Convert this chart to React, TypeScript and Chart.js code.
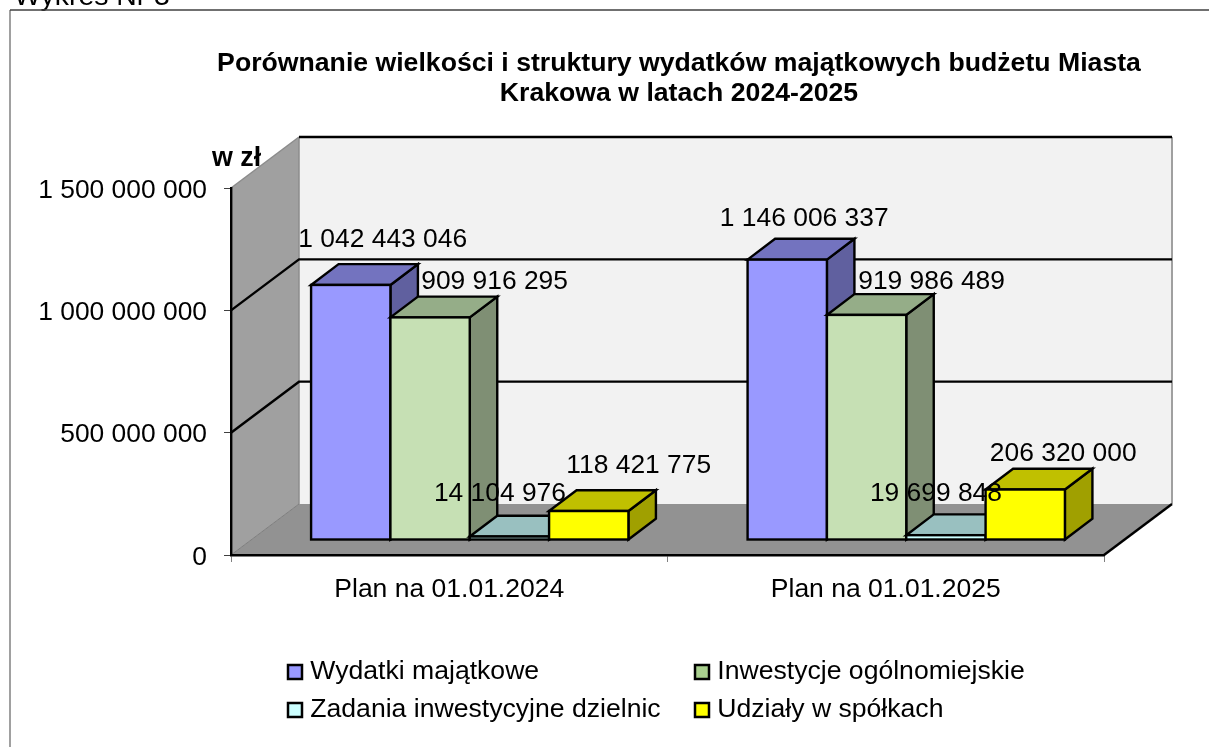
import React, { useEffect, useRef } from "react";
import { Chart, registerables } from "chart.js";

Chart.register(...registerables);

const categories = ["Plan na 01.01.2024", "Plan na 01.01.2025"];
const wydatki = [1042443046, 1146006337];
const inwestycje = [909916295, 919986489];
const zadania = [14104976, 19699848];
const udzialy = [118421775, 206320000];
const seriesNames = ["Wydatki majątkowe", "Inwestycje ogólnomiejskie", "Zadania inwestycyjne dzielnic", "Udziały w spółkach"];
const titleLines = ["Porównanie wielkości i struktury wydatków majątkowych budżetu Miasta", "Krakowa w latach 2024-2025"];
const unitLabel = "w zł";
const headingLabel = "Wykres Nr 3";

const FONT = "'Liberation Sans', Arial, sans-serif";
const WALL_DX = 68, WALL_DY = 51;
const SHIFT_DX = 20.5, SHIFT_DY = 15;
const BAR_DX = 27.5, BAR_DY = 20.8;
const LEGEND_LEFT = 281.6, LEGEND_TOP = 647.3, LEGEND_COL = 395.6;
const LINE = 2.4;

const fronts = ["#9999ff", "#c6e0b4", "#ccffff", "#ffff00"];
const tops = ["#7373bf", "#95ad88", "#99c0c0", "#c0c000"];
const sides = ["#60609f", "#7f8f74", "#80a0a0", "#a0a000"];
const legendFills = ["#9999ff", "#a9d08e", "#ccffff", "#ffff00"];
// label centre relative to the front-face top-centre of each bar: [series][category]
const labelOffsets = [
  [[32, -45], [17, -41]],
  [[64.5, -36], [65, -33]],
  [[-9.5, -43], [-10, -41]],
  [[50, -45], [38, -36]],
];

const fmt = (v: number) => String(Math.round(v)).replace(/\B(?=(\d{3})+(?!\d))/g, " ");

function poly(ctx: CanvasRenderingContext2D, pts: number[][], fill?: string, stroke?: string, w = LINE) {
  ctx.beginPath();
  pts.forEach((p, i) => (i ? ctx.lineTo(p[0], p[1]) : ctx.moveTo(p[0], p[1])));
  if (fill) { ctx.closePath(); ctx.fillStyle = fill; ctx.fill(); }
  if (stroke) { ctx.strokeStyle = stroke; ctx.lineWidth = w; ctx.lineJoin = "miter"; ctx.stroke(); }
}

const scene = {
  id: "scene3d",
  beforeLayout(chart: any) {
    chart.boxes = chart.boxes.filter((b: any) => b !== chart.legend);
  },
  afterLayout(chart: any) {
    const t = chart.titleBlock;
    t.left = 217; t.right = 1141;
    const lg = chart.legend;
    lg.update(900, 100, { top: 0, left: 0, right: 0, bottom: 0 });
    lg.left = LEGEND_LEFT; lg.right = 1150; lg.top = LEGEND_TOP; lg.bottom = LEGEND_TOP + 100;
    lg.width = lg.right - lg.left; lg.height = 100;
    if (lg.columnSizes[0]) lg.columnSizes[0].width = LEGEND_COL;
  },
  beforeDraw(chart: any) {
    const { ctx, scales: { x, y } } = chart;
    const l = x.left, r = x.right;
    const b = y.getPixelForValue(0), t = y.getPixelForValue(1500000000);
    // frame
    ctx.save();
    ctx.fillStyle = "#000";
    ctx.font = `28.4px ${FONT}`;
    ctx.textAlign = "left";
    ctx.textBaseline = "alphabetic";
    ctx.fillText(headingLabel, 14, 5);
    poly(ctx, [[10, 748], [10, 10]], undefined, "#808080", 1.5);
    poly(ctx, [[10, 10], [1209, 10]], undefined, "#404040", 1.5);
    // walls and floor
    poly(ctx, [[l + WALL_DX, t - WALL_DY], [r + WALL_DX, t - WALL_DY], [r + WALL_DX, b - WALL_DY], [l + WALL_DX, b - WALL_DY]], "#f2f2f2");
    poly(ctx, [[l, t], [l + WALL_DX, t - WALL_DY], [l + WALL_DX, b - WALL_DY], [l, b]], "#a0a0a0");
    poly(ctx, [[l, b], [l + WALL_DX, b - WALL_DY], [r + WALL_DX, b - WALL_DY], [r, b]], "#929292");
    poly(ctx, [[l + WALL_DX, t - WALL_DY], [l + WALL_DX, b - WALL_DY]], undefined, "#8c8c8c", 1.5);
    poly(ctx, [[r + WALL_DX, t - WALL_DY], [r + WALL_DX, b - WALL_DY]], undefined, "#a0a0a0", 2);
    poly(ctx, [[l, b], [l + WALL_DX, b - WALL_DY]], undefined, "#7c7c7c", 1);
    poly(ctx, [[l, t], [l + WALL_DX, t - WALL_DY]], undefined, "#8c8c8c", 1.5);
    poly(ctx, [[r, b], [r + WALL_DX, b - WALL_DY]], undefined, "#000");
    // gridlines on the walls
    y.ticks.forEach((tk: any) => {
      if (tk.value === 0) return;
      const py = y.getPixelForValue(tk.value);
      if (tk.value === 1500000000) {
        poly(ctx, [[l + WALL_DX, py - WALL_DY], [r + WALL_DX, py - WALL_DY]], undefined, "#000");
      } else {
        poly(ctx, [[l, py], [l + WALL_DX, py - WALL_DY], [r + WALL_DX, py - WALL_DY]], undefined, "#000");
      }
    });
    ctx.restore();
  },
  beforeDatasetsDraw(chart: any) {
    const { ctx } = chart;
    const n = chart.data.datasets.length;
    for (let s = 0; s < n; s++) {
      const meta = chart.getDatasetMeta(s);
      ctx.save();
      ctx.translate(SHIFT_DX, -SHIFT_DY);
      meta.data.forEach((bar: any) => {
        const { x, y, base, width } = bar.getProps(["x", "y", "base", "width"], true);
        const L = x - width / 2, R = x + width / 2;
        poly(ctx, [[R, y], [R + BAR_DX, y - BAR_DY], [R + BAR_DX, base - BAR_DY], [R, base]], sides[s], "#000");
        poly(ctx, [[L, y], [L + BAR_DX, y - BAR_DY], [R + BAR_DX, y - BAR_DY], [R, y]], tops[s], "#000");
      });
      meta.controller.draw();
      meta.data.forEach((bar: any) => {
        const { x, y, base, width } = bar.getProps(["x", "y", "base", "width"], true);
        ctx.strokeStyle = "#000";
        ctx.lineWidth = LINE;
        ctx.strokeRect(x - width / 2, y, width, base - y);
      });
      ctx.restore();
    }
    // value labels
    ctx.save();
    ctx.fillStyle = "#000";
    ctx.font = `26.4px ${FONT}`;
    ctx.textAlign = "center";
    ctx.textBaseline = "middle";
    for (let s = 0; s < n; s++) {
      const meta = chart.getDatasetMeta(s);
      meta.data.forEach((bar: any, i: number) => {
        const { x, y } = bar.getProps(["x", "y"], true);
        const [ox, oy] = labelOffsets[s][i];
        ctx.fillText(fmt(chart.data.datasets[s].data[i]), x + SHIFT_DX + ox, y - SHIFT_DY + oy);
      });
    }
    ctx.font = `bold 26.8px ${FONT}`;
    ctx.textAlign = "left";
    ctx.fillText(unitLabel, 212, 159);
    ctx.restore();
    return false;
  },
  afterDraw(chart: any) {
    chart.legend.draw(chart.ctx);
  },
};

export default function App() {
  const ref = useRef<HTMLCanvasElement>(null);
  useEffect(() => {
    document.body.style.margin = "0";
    const rank = [0, 2, 1, 3];
    const chart = new Chart(ref.current as HTMLCanvasElement, {
      type: "bar",
      data: {
        labels: categories,
        datasets: [wydatki, inwestycje, zadania, udzialy].map((data, i) => ({
          label: seriesNames[i],
          data,
          backgroundColor: fronts[i],
          borderColor: "#000",
          borderWidth: 0,
          categoryPercentage: 0.727,
          barPercentage: 1,
        })),
      },
      options: {
        responsive: false,
        animation: false,
        devicePixelRatio: 1,
        layout: { padding: { left: 0, top: 0, right: 105, bottom: 0 } },
        plugins: {
          tooltip: { enabled: false },
          title: {
            display: true,
            text: titleLines,
            color: "#000",
            font: { family: FONT, size: 26.65, weight: "bold", lineHeight: 1.126 },
            padding: { top: 49, bottom: 79 },
          },
          legend: {
            display: true,
            position: "left",
            align: "start",
            labels: {
              color: "#000",
              font: { family: FONT, size: 26.6, lineHeight: 1.2 },
              boxWidth: 4,
              boxHeight: 14,
              usePointStyle: true,
              padding: 11.4,
              generateLabels(c: any) {
                return Chart.defaults.plugins.legend.labels.generateLabels(c).map((it: any, i: number) => ({ ...it, fillStyle: legendFills[i], strokeStyle: "#000", lineWidth: 2.5, pointStyle: "rect" }));
              },
              sort: (a: any, b: any) => rank[a.datasetIndex] - rank[b.datasetIndex],
            },
          },
        },
        scales: {
          x: {
            afterFit: (s: any) => { s.height = 192; },
            grid: { drawOnChartArea: false, drawTicks: true, tickLength: 7, tickColor: "#808080", tickWidth: 1 },
            border: { display: true, color: "#000", width: 2.4 },
            ticks: { color: "#000", font: { family: FONT, size: 26.5 }, padding: 12, autoSkip: false, maxRotation: 0 },
          },
          y: {
            min: 0,
            max: 1500000000,
            afterFit: (s: any) => { s.width = 231; },
            grid: { drawOnChartArea: false, drawTicks: true, tickLength: 7, tickColor: "#404040", tickWidth: 1 },
            border: { display: true, color: "#000", width: 2.4 },
            ticks: { color: "#000", stepSize: 500000000, font: { family: FONT, size: 26.4 }, padding: 17, labelOffset: 2.5, callback: (v: any) => fmt(Number(v)) },
          },
        },
      } as any,
      plugins: [scene as any],
    });
    return () => chart.destroy();
  }, []);
  return <canvas ref={ref} width={1209} height={747} style={{ display: "block" }} />;
}
